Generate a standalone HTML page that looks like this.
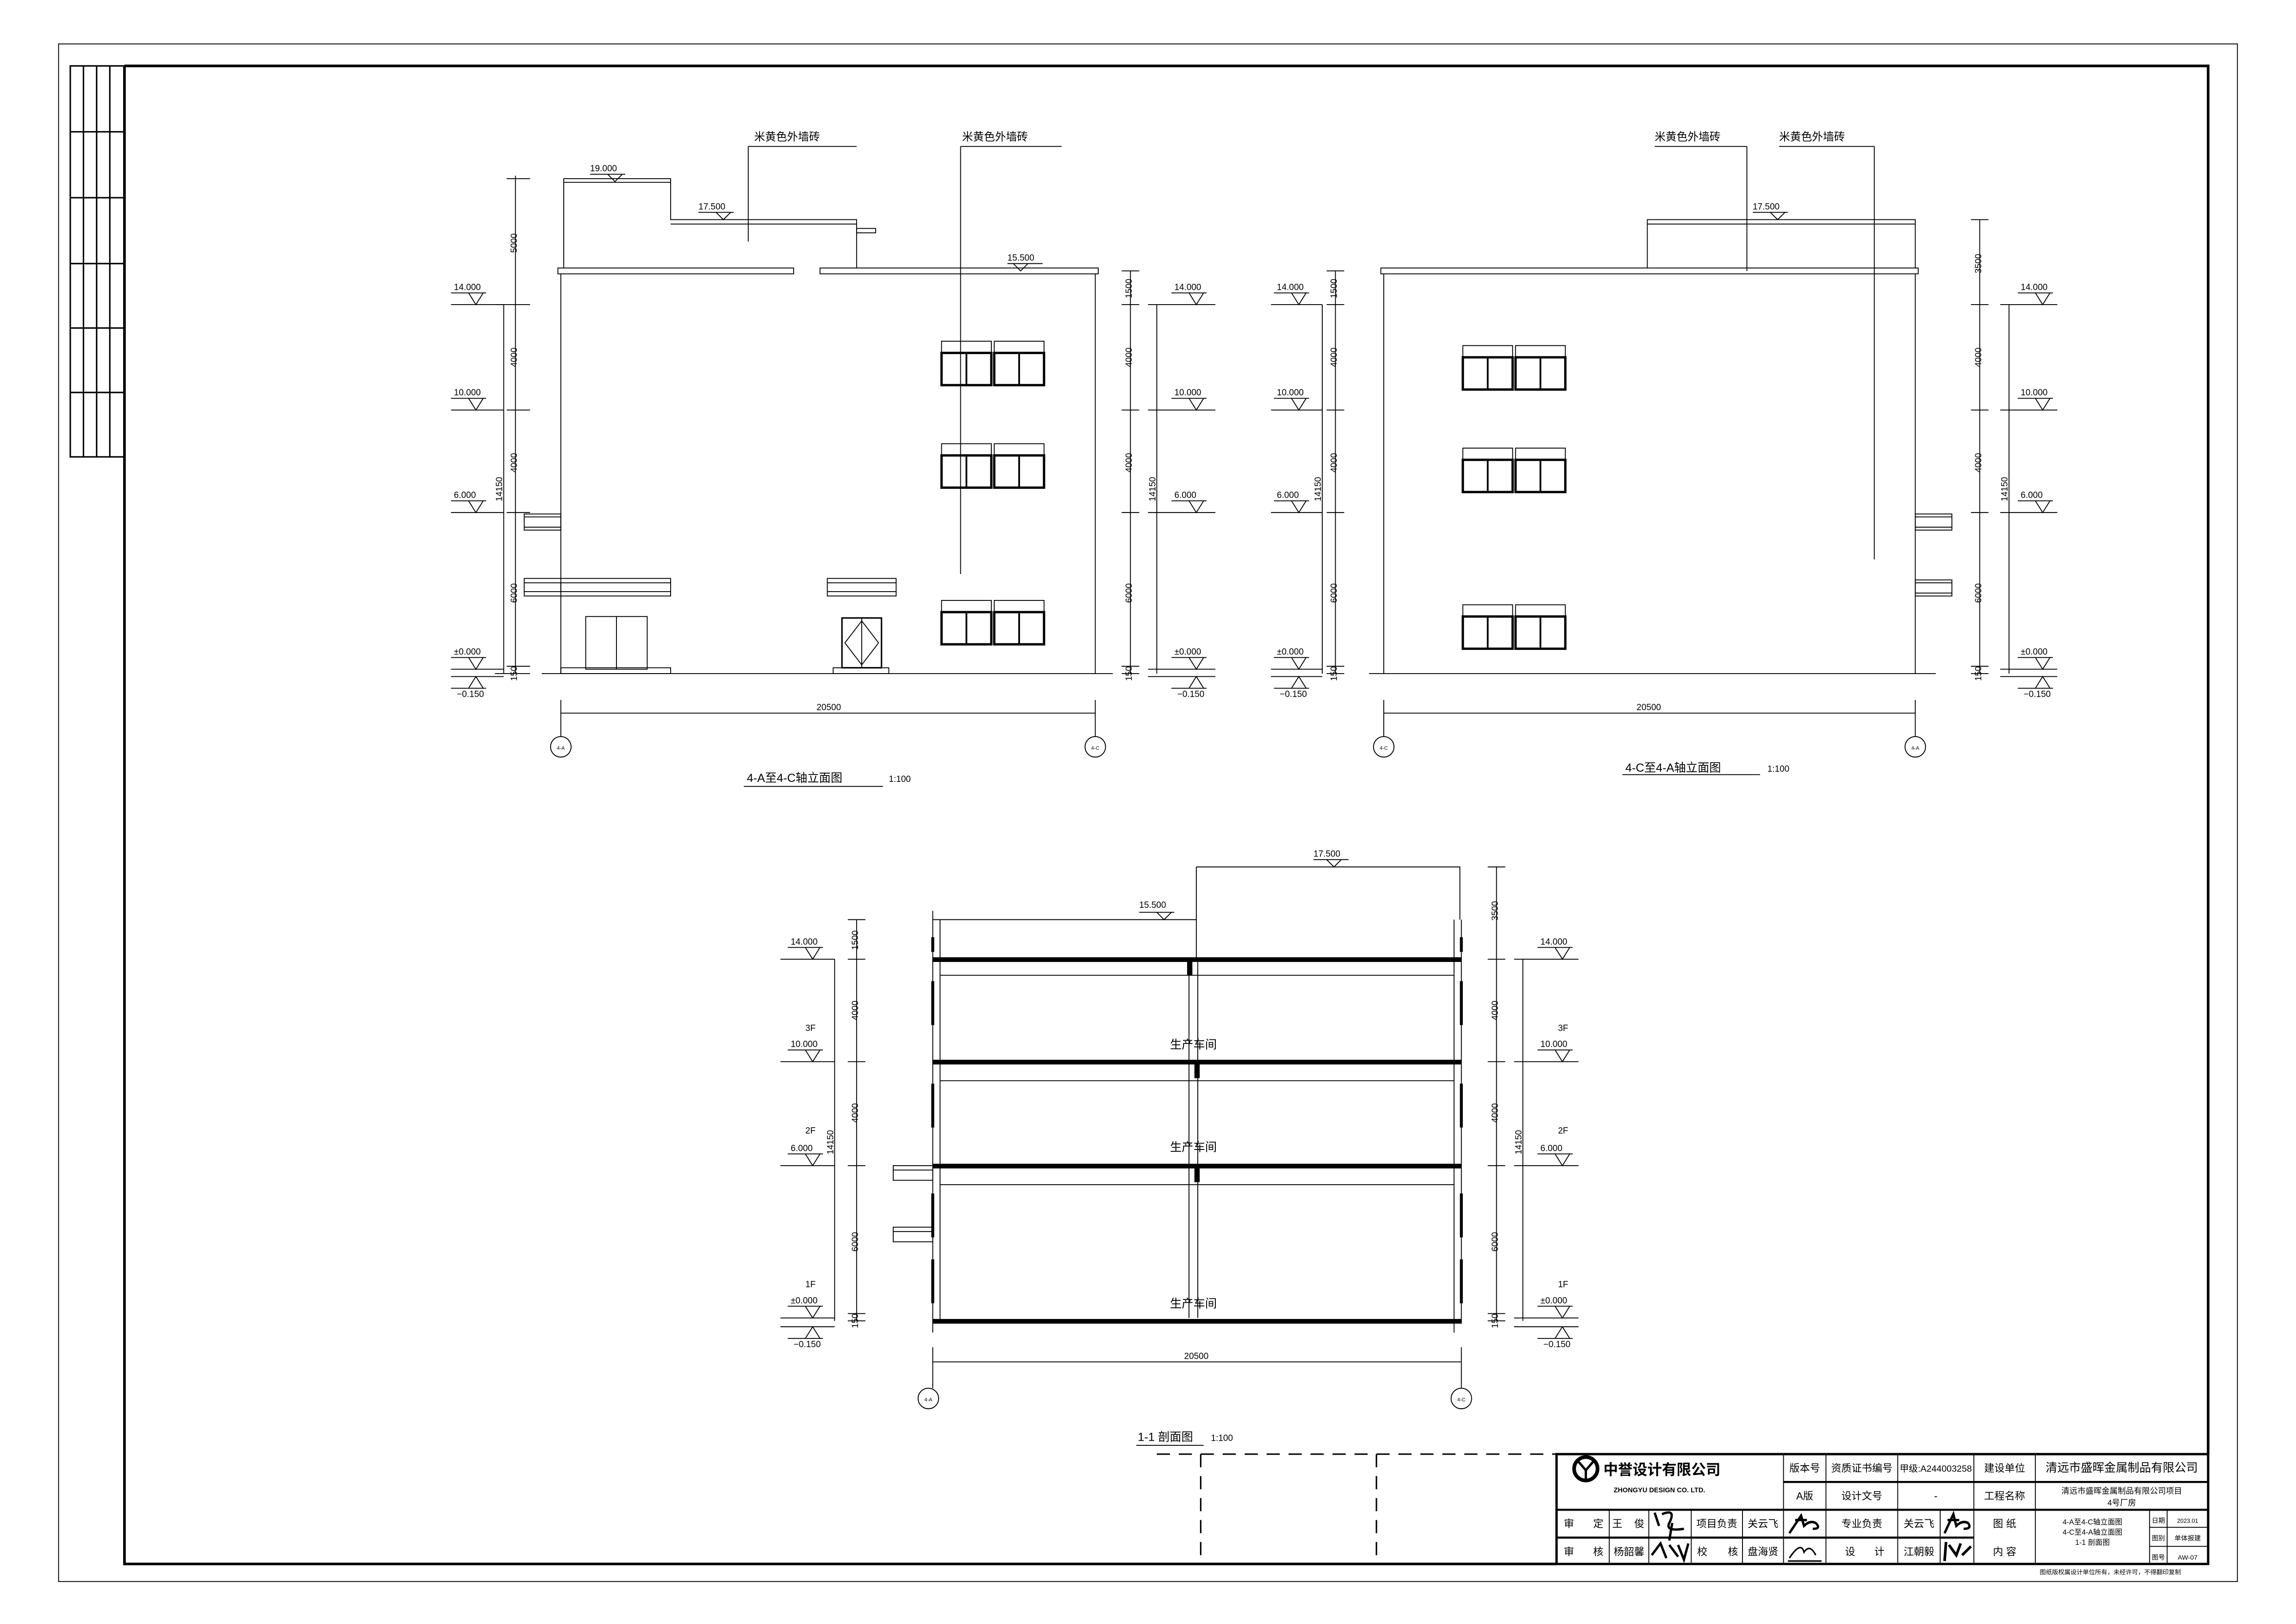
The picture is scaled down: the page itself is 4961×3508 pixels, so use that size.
<!DOCTYPE html>
<html><head><meta charset="utf-8">
<style>
html,body{margin:0;padding:0;background:#fff;}
svg{display:block;}
text{font-family:"Liberation Sans","Noto Sans CJK SC",sans-serif;fill:#000;}
.s{font-size:6px;}
.m{font-size:7.5px;}
.c{font-size:8px;}
</style></head>
<body>
<svg width="4961" height="3508" viewBox="0 0 1568 1109" preserveAspectRatio="none" xmlns="http://www.w3.org/2000/svg">
<defs>
<path id="lv" d="M0 -8H24M12 -8L17 0L22 -8Z" fill="none" stroke="#000" stroke-width="0.6"/>
<path id="lvd" d="M0 8H24M12 8L17 0L22 8Z" fill="none" stroke="#000" stroke-width="0.6"/>
<g id="win">
<rect x="0" y="0" width="34" height="8" fill="none" stroke="#000" stroke-width="0.6"/>
<rect x="0" y="8" width="34" height="22" fill="none" stroke="#000" stroke-width="1.6"/>
<line x1="17" y1="8" x2="17" y2="30" stroke="#000" stroke-width="1.2"/>
</g>
<g id="win2"><use href="#win"/><use href="#win" x="36"/></g>
</defs>
<rect width="1568" height="1109" fill="#fff"/>
<g fill="none" stroke="#000" stroke-width="0.6">
<rect x="40" y="30" width="1488" height="1050"/>
<path d="M85 45H1508V993M85 45V1068H1063" stroke-width="1.8"/>
<rect x="48" y="45" width="37" height="267" stroke-width="1"/>
<path d="M57 45V312M66 45V312M75 45V312M48 90H85M48 135H85M48 180H85M48 224H85M48 268H85" stroke-width="1"/>

<!-- LEFT ELEVATION -->
<path d="M370 460H760"/>
<path d="M383 460V187M748 460V187"/>
<rect x="381" y="183" width="161" height="4"/>
<rect x="560" y="183" width="190" height="4"/>
<path d="M385 183V122H458V150H585V183M385 124.5H458M458 153H585"/>
<rect x="585" y="156" width="13" height="3"/>
<rect x="358" y="395" width="100" height="12"/><path d="M358 398H458M358 404H458M383 398V404"/>
<rect x="358" y="351" width="25" height="11"/><path d="M358 353H383M358 360H383"/>
<rect x="565" y="395" width="47" height="12"/><path d="M565 398H612M565 404H612"/>
<rect x="400" y="421" width="42" height="36"/><path d="M421 421V457"/>
<rect x="383" y="456" width="75" height="4"/><rect x="569" y="456" width="38" height="4"/>
<rect x="575" y="422" width="27" height="34" stroke-width="1"/><path d="M588.5 422V456M588.5 424L577 439L588.5 454L600 439Z"/>
<use href="#win2" x="643" y="233"/><use href="#win2" x="643" y="303"/><use href="#win2" x="643" y="410"/>
<path d="M511 100H585M511 100V165M656 100H725M656 100V392"/>
<path d="M403 119H427M415 119L420 124L425 119Z M477 145H501M489 145L494 150L499 145Z M688 180H712M692 180L697 185L702 180Z"/>
<path d="M352 120V460M344 208V460"/>
<path d="M346 122H362M346 208H362M346 280H362M346 350H362M346 455H362M346 460H362M338 208H350M338 460H350"/>
<path d="M308 208H344M308 280H344M308 350H344M308 457H344M308 462H344"/>
<use href="#lv" x="308" y="208"/><use href="#lv" x="308" y="280"/><use href="#lv" x="308" y="350"/><use href="#lv" x="308" y="457"/><use href="#lvd" x="308" y="462"/>
<path d="M772 185V460M790 208V460"/>
<path d="M766 185H778M766 208H778M766 280H778M766 350H778M766 455H778M766 460H778M784 208H830M784 280H830M784 350H830M784 457H830M784 462H830"/>
<use href="#lv" x="800" y="208"/><use href="#lv" x="800" y="280"/><use href="#lv" x="800" y="350"/><use href="#lv" x="800" y="457"/><use href="#lvd" x="800" y="462"/>
<path d="M383 487H748M383 478V503M748 478V503"/>
<circle cx="383" cy="510" r="7"/><circle cx="748" cy="510" r="7"/>
<path d="M508 537H603"/>

<!-- RIGHT ELEVATION -->
<path d="M935 460H1322"/>
<path d="M945 460V187M1308 460V187"/>
<rect x="943" y="183" width="367" height="4"/>
<path d="M1125 183V150H1308V183M1125 153H1308"/>
<use href="#win2" x="999" y="236"/><use href="#win2" x="999" y="306"/><use href="#win2" x="999" y="413"/>
<rect x="1308" y="351" width="25" height="11"/><path d="M1308 353H1333M1308 360H1333"/>
<rect x="1308" y="396" width="25" height="11"/><path d="M1308 398H1333M1308 405H1333"/>
<path d="M1130 100H1193M1193 100V185M1215 100H1280M1280 100V382"/>
<path d="M1197 145H1221M1209 145L1214 150L1219 145Z"/>
<path d="M912 185V460M903 208V460"/>
<path d="M906 185H918M906 208H918M906 280H918M906 350H918M906 455H918M906 460H918M868 208H903M868 280H903M868 350H903M868 457H903M868 462H903"/>
<use href="#lv" x="870" y="208"/><use href="#lv" x="870" y="280"/><use href="#lv" x="870" y="350"/><use href="#lv" x="870" y="457"/><use href="#lvd" x="870" y="462"/>
<path d="M1352 150V460M1372 208V460"/>
<path d="M1346 150H1358M1346 208H1358M1346 280H1358M1346 350H1358M1346 455H1358M1346 460H1358M1366 208H1405M1366 280H1405M1366 350H1405M1366 457H1405M1366 462H1405"/>
<use href="#lv" x="1378" y="208"/><use href="#lv" x="1378" y="280"/><use href="#lv" x="1378" y="350"/><use href="#lv" x="1378" y="457"/><use href="#lvd" x="1378" y="462"/>
<path d="M945 487H1308M945 478V503M1308 478V503"/>
<circle cx="945" cy="510" r="7"/><circle cx="1308" cy="510" r="7"/>
<path d="M1108 529H1202"/>

<!-- SECTION -->
<path d="M637 628H817M637 622V910M642 628V902M817 592H997V628M817 592V655M993 628V910M998 628V902"/>
<rect x="637" y="654" width="361" height="2.6" fill="#000"/>
<rect x="637" y="724" width="361" height="2.6" fill="#000"/>
<rect x="637" y="795" width="361" height="2.6" fill="#000"/>
<rect x="637" y="901" width="361" height="2.6" fill="#000"/>
<path d="M642 666H993M642 738H993M642 809H993"/>
<path d="M812 657V900M818 657V900"/>
<rect x="811" y="657" width="3" height="9" fill="#000"/><rect x="816" y="727" width="3" height="9" fill="#000"/><rect x="816" y="798" width="3" height="9" fill="#000"/>
<path d="M637 640V650M637 670V700M637 740V770M637 815V845M637 860V890" stroke-width="2"/>
<path d="M998 640V650M998 670V700M998 740V770M998 815V845M998 860V890" stroke-width="2"/>
<rect x="610" y="796" width="27" height="10"/><path d="M610 799H637"/>
<rect x="610" y="838" width="27" height="10"/><path d="M610 841H637"/>
<path d="M778 623H802M790 623L795 628L800 623Z M897 587H921M906 587L911 592L916 587Z"/>
<path d="M585 628V902M570 655V902"/>
<path d="M579 628H591M579 655H591M579 725H591M579 796H591M579 897H591M579 902H591M533 655H570M533 725H570M533 796H570M533 900H570M533 906H570"/>
<use href="#lv" x="538" y="655"/><use href="#lv" x="538" y="725"/><use href="#lv" x="538" y="796"/><use href="#lv" x="538" y="900"/><use href="#lvd" x="538" y="906"/>
<path d="M1022 592V902M1040 655V902"/>
<path d="M1016 592H1028M1016 655H1028M1016 725H1028M1016 796H1028M1016 897H1028M1016 902H1028M1034 655H1078M1034 725H1078M1034 796H1078M1034 900H1078M1034 906H1078"/>
<use href="#lv" x="1050" y="655"/><use href="#lv" x="1050" y="725"/><use href="#lv" x="1050" y="796"/><use href="#lv" x="1050" y="900"/><use href="#lvd" x="1050" y="906"/>
<path d="M637 930H998M637 920V948M998 920V948"/>
<circle cx="634" cy="955" r="7"/><circle cx="998" cy="955" r="7"/>
<path d="M776 987H822"/>
<path d="M790 993H1063M820 993V1068M940 993V1068" stroke-dasharray="9 6" stroke-width="1"/>

<!-- TITLE BLOCK -->
<rect x="1063" y="993" width="445" height="75" stroke-width="1.6"/>
<path d="M1218 1012H1508M1063 1031H1508M1063 1050H1348" stroke-width="1.4"/>
<path d="M1218 993V1068M1247 993V1068M1296 993V1068M1348 993V1068M1390 993V1068"/>
<path d="M1099 1031V1068M1126 1031V1068M1155 1031V1068M1190 1031V1068M1325 1031V1068M1468 1031V1068M1480 1031V1068M1468 1043H1508M1468 1056H1508"/>
<circle cx="1083" cy="1003" r="8" stroke-width="2.5"/>
<path d="M1077 997L1083 1004L1089 997M1083 1004V1011" stroke-width="1.6"/>
</g>
<g fill="none" stroke="#000" stroke-width="1.6">
<path d="M1130 1033L1133 1042M1135 1034Q1145 1030 1140 1040Q1137 1046 1150 1044M1142 1040L1140 1052"/>
<path d="M1222 1047L1230 1035L1232 1042Q1236 1038 1240 1040Q1244 1044 1238 1044M1226 1038H1234"/>
<path d="M1328 1047L1334 1034L1336 1042Q1340 1038 1344 1040Q1347 1044 1341 1044M1330 1038H1338"/>
<path d="M1128 1062L1134 1054L1138 1064M1140 1055L1146 1063M1146 1055L1150 1065L1153 1054"/>
<path d="M1222 1064Q1230 1052 1232 1060Q1236 1054 1240 1062M1221 1066H1244" stroke-width="1"/>
<path d="M1328 1066L1329 1053M1331 1055L1336 1062L1339 1054M1340 1062L1346 1056" stroke-width="1.8"/>
</g>

<g class="s">
<text x="403" y="117">19.000</text><text x="477" y="143">17.500</text><text x="688" y="178">15.500</text>
<text x="515" y="96" class="m">米黄色外墙砖</text><text x="657" y="96" class="m">米黄色外墙砖</text>
<text x="310" y="198">14.000</text><text x="310" y="270">10.000</text><text x="310" y="340">6.000</text><text x="310" y="447">±0.000</text><text x="312" y="476">−0.150</text>
<text x="802" y="198">14.000</text><text x="802" y="270">10.000</text><text x="802" y="340">6.000</text><text x="802" y="447">±0.000</text><text x="804" y="476">−0.150</text>
<text transform="translate(353,166) rotate(-90)" text-anchor="middle">5000</text>
<text transform="translate(353,244) rotate(-90)" text-anchor="middle">4000</text>
<text transform="translate(353,316) rotate(-90)" text-anchor="middle">4000</text>
<text transform="translate(353,405) rotate(-90)" text-anchor="middle">6000</text>
<text transform="translate(353,460) rotate(-90)" text-anchor="middle">150</text>
<text transform="translate(343,334) rotate(-90)" text-anchor="middle">14150</text>
<text transform="translate(773,197) rotate(-90)" text-anchor="middle">1500</text>
<text transform="translate(773,244) rotate(-90)" text-anchor="middle">4000</text>
<text transform="translate(773,316) rotate(-90)" text-anchor="middle">4000</text>
<text transform="translate(773,405) rotate(-90)" text-anchor="middle">6000</text>
<text transform="translate(773,460) rotate(-90)" text-anchor="middle">150</text>
<text transform="translate(789,334) rotate(-90)" text-anchor="middle">14150</text>
<text x="566" y="485" text-anchor="middle">20500</text>
<text x="383" y="512" text-anchor="middle" style="font-size:3.5px">4-A</text><text x="748" y="512" text-anchor="middle" style="font-size:3.5px">4-C</text>
<text x="510" y="534" class="c">4-A至4-C轴立面图</text><text x="607" y="534">1:100</text>

<text x="1130" y="96" class="m">米黄色外墙砖</text><text x="1215" y="96" class="m">米黄色外墙砖</text>
<text x="1197" y="143">17.500</text>
<text x="872" y="198">14.000</text><text x="872" y="270">10.000</text><text x="872" y="340">6.000</text><text x="872" y="447">±0.000</text><text x="874" y="476">−0.150</text>
<text x="1380" y="198">14.000</text><text x="1380" y="270">10.000</text><text x="1380" y="340">6.000</text><text x="1380" y="447">±0.000</text><text x="1382" y="476">−0.150</text>
<text transform="translate(913,197) rotate(-90)" text-anchor="middle">1500</text>
<text transform="translate(913,244) rotate(-90)" text-anchor="middle">4000</text>
<text transform="translate(913,316) rotate(-90)" text-anchor="middle">4000</text>
<text transform="translate(913,405) rotate(-90)" text-anchor="middle">6000</text>
<text transform="translate(913,460) rotate(-90)" text-anchor="middle">150</text>
<text transform="translate(902,334) rotate(-90)" text-anchor="middle">14150</text>
<text transform="translate(1353,180) rotate(-90)" text-anchor="middle">3500</text>
<text transform="translate(1353,244) rotate(-90)" text-anchor="middle">4000</text>
<text transform="translate(1353,316) rotate(-90)" text-anchor="middle">4000</text>
<text transform="translate(1353,405) rotate(-90)" text-anchor="middle">6000</text>
<text transform="translate(1353,460) rotate(-90)" text-anchor="middle">150</text>
<text transform="translate(1371,334) rotate(-90)" text-anchor="middle">14150</text>
<text x="1126" y="485" text-anchor="middle">20500</text>
<text x="945" y="512" text-anchor="middle" style="font-size:3.5px">4-C</text><text x="1308" y="512" text-anchor="middle" style="font-size:3.5px">4-A</text>
<text x="1110" y="527" class="c">4-C至4-A轴立面图</text><text x="1207" y="527">1:100</text>

<text x="778" y="620">15.500</text><text x="897" y="585">17.500</text>
<text x="815" y="716" text-anchor="middle" class="c">生产车间</text>
<text x="815" y="786" text-anchor="middle" class="c">生产车间</text>
<text x="815" y="893" text-anchor="middle" class="c">生产车间</text>
<text x="540" y="645">14.000</text><text x="550" y="704">3F</text><text x="540" y="715">10.000</text><text x="550" y="774">2F</text><text x="540" y="786">6.000</text><text x="550" y="879">1F</text><text x="540" y="890">±0.000</text><text x="542" y="920">−0.150</text>
<text x="1052" y="645">14.000</text><text x="1064" y="704">3F</text><text x="1052" y="715">10.000</text><text x="1064" y="774">2F</text><text x="1052" y="786">6.000</text><text x="1064" y="879">1F</text><text x="1052" y="890">±0.000</text><text x="1054" y="920">−0.150</text>
<text transform="translate(586,642) rotate(-90)" text-anchor="middle">1500</text>
<text transform="translate(586,690) rotate(-90)" text-anchor="middle">4000</text>
<text transform="translate(586,760) rotate(-90)" text-anchor="middle">4000</text>
<text transform="translate(586,848) rotate(-90)" text-anchor="middle">6000</text>
<text transform="translate(586,902) rotate(-90)" text-anchor="middle">150</text>
<text transform="translate(569,780) rotate(-90)" text-anchor="middle">14150</text>
<text transform="translate(1023,622) rotate(-90)" text-anchor="middle">3500</text>
<text transform="translate(1023,690) rotate(-90)" text-anchor="middle">4000</text>
<text transform="translate(1023,760) rotate(-90)" text-anchor="middle">4000</text>
<text transform="translate(1023,848) rotate(-90)" text-anchor="middle">6000</text>
<text transform="translate(1023,902) rotate(-90)" text-anchor="middle">150</text>
<text transform="translate(1039,780) rotate(-90)" text-anchor="middle">14150</text>
<text x="817" y="928" text-anchor="middle">20500</text>
<text x="634" y="957" text-anchor="middle" style="font-size:3.5px">4-A</text><text x="998" y="957" text-anchor="middle" style="font-size:3.5px">4-C</text>
<text x="777" y="984" class="c">1-1 剖面图</text><text x="827" y="984">1:100</text>
</g>
<g style="font-size:7px">
<text x="1095" y="1007" style="font-size:10px;font-weight:bold">中誉设计有限公司</text>
<text x="1102" y="1019" style="font-size:4.6px;font-weight:bold">ZHONGYU DESIGN CO. LTD.</text>
<text x="1232.5" y="1005" text-anchor="middle">版本号</text>
<text x="1271.5" y="1005" text-anchor="middle">资质证书编号</text>
<text x="1322" y="1005" text-anchor="middle" style="font-size:6.2px">甲级:A244003258</text>
<text x="1369" y="1005" text-anchor="middle">建设单位</text>
<text x="1449" y="1005" text-anchor="middle" style="font-size:8px">清远市盛晖金属制品有限公司</text>
<text x="1232.5" y="1024" text-anchor="middle">A版</text>
<text x="1271.5" y="1024" text-anchor="middle">设计文号</text>
<text x="1322" y="1024" text-anchor="middle">-</text>
<text x="1369" y="1024" text-anchor="middle">工程名称</text>
<text x="1449" y="1020" text-anchor="middle" style="font-size:5.5px">清远市盛晖金属制品有限公司项目</text>
<text x="1449" y="1028" text-anchor="middle" style="font-size:5.5px">4号厂房</text>
<text x="1068" y="1043">审</text><text x="1088" y="1043">定</text>
<text x="1101" y="1043">王</text><text x="1116" y="1043">俊</text>
<text x="1172.5" y="1043" text-anchor="middle">项目负责</text>
<text x="1204" y="1043" text-anchor="middle">关云飞</text>
<text x="1271.5" y="1043" text-anchor="middle">专业负责</text>
<text x="1310.5" y="1043" text-anchor="middle">关云飞</text>
<text x="1369" y="1043" text-anchor="middle">图 纸</text>
<text x="1068" y="1062">审</text><text x="1088" y="1062">核</text>
<text x="1112.5" y="1062" text-anchor="middle">杨韶馨</text>
<text x="1159" y="1062">校</text><text x="1180" y="1062">核</text>
<text x="1204" y="1062" text-anchor="middle">盘海贤</text>
<text x="1260" y="1062">设</text><text x="1280" y="1062">计</text>
<text x="1310.5" y="1062" text-anchor="middle">江朝毅</text>
<text x="1369" y="1062" text-anchor="middle">内 容</text>
<text x="1429" y="1041" text-anchor="middle" style="font-size:5px">4-A至4-C轴立面图</text>
<text x="1429" y="1048" text-anchor="middle" style="font-size:5px">4-C至4-A轴立面图</text>
<text x="1429" y="1055" text-anchor="middle" style="font-size:5px">1-1 剖面图</text>
<text x="1474" y="1040" text-anchor="middle" style="font-size:4.5px">日期</text>
<text x="1494" y="1040" text-anchor="middle" style="font-size:4px">2023.01</text>
<text x="1474" y="1052" text-anchor="middle" style="font-size:4.5px">图别</text>
<text x="1494" y="1052" text-anchor="middle" style="font-size:4.5px">单体报建</text>
<text x="1474" y="1065" text-anchor="middle" style="font-size:4.5px">图号</text>
<text x="1494" y="1065" text-anchor="middle" style="font-size:4.5px">AW-07</text>
<text x="1393" y="1075" style="font-size:4.2px">图纸版权属设计单位所有，未经许可，不得翻印复制</text>
</g>
</svg>
</body></html>
